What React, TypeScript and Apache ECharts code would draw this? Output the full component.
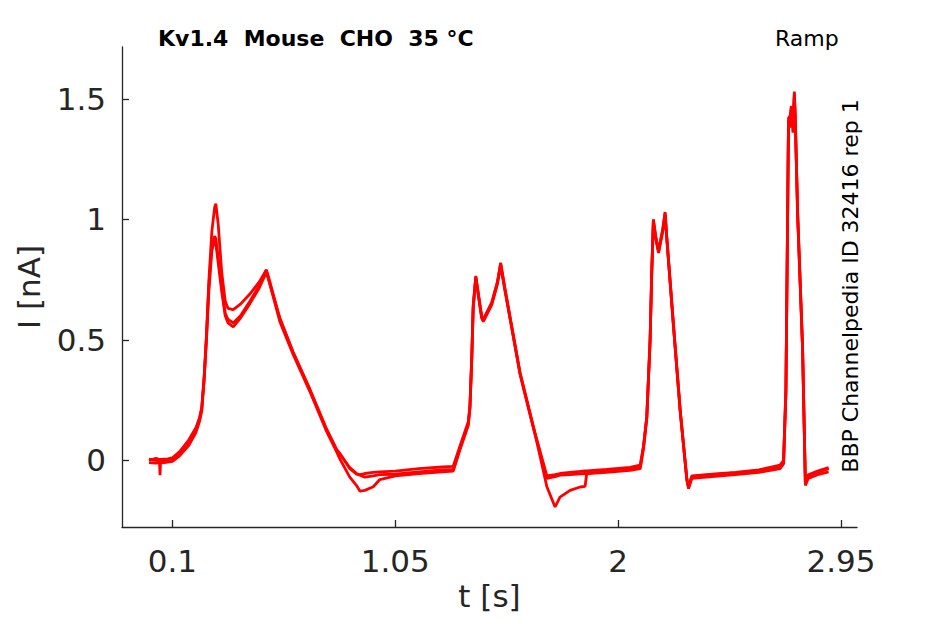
import React, { useEffect, useRef } from "react";
import * as echarts from "echarts";

// time base shared by the three repetitions (s)
const timeS = [
  0.0, 0.03, 0.045, 0.047, 0.049, 0.08, 0.1, 0.13, 0.17, 0.2, 0.215, 0.225,
  0.235, 0.245, 0.255, 0.268, 0.28, 0.285, 0.295, 0.31, 0.325, 0.337, 0.359,
  0.39, 0.43, 0.47, 0.5, 0.51, 0.558, 0.614, 0.686, 0.757, 0.8, 0.814, 0.856,
  0.885, 0.899, 0.92, 0.956, 0.984, 1.05, 1.15, 1.25, 1.297, 1.326, 1.361,
  1.368, 1.376, 1.382, 1.393, 1.418, 1.425, 1.461, 1.485, 1.499, 1.518, 1.582,
  1.638, 1.696, 1.731, 1.752, 1.795, 1.838, 1.859, 1.866, 1.95, 2.05, 2.094,
  2.108, 2.122, 2.136, 2.143, 2.15, 2.16, 2.172, 2.19, 2.2, 2.207, 2.236,
  2.265, 2.293, 2.3, 2.314, 2.4, 2.5, 2.6, 2.69, 2.705, 2.715, 2.722, 2.726,
  2.733, 2.738, 2.745, 2.751, 2.755, 2.765, 2.786, 2.798, 2.81, 2.85, 2.897,
];

// current, nA
const rep1 = [
  0.005, 0.0, -0.005, -0.005, -0.004, 0.002, 0.005, 0.028, 0.075, 0.125, 0.168,
  0.215, 0.34, 0.52, 0.74, 0.95, 1.05, 1.065, 0.98, 0.78, 0.66, 0.63, 0.625,
  0.648, 0.69, 0.74, 0.79, 0.75, 0.59, 0.45, 0.295, 0.13, 0.045, 0.028, -0.035,
  -0.058, -0.062, -0.07, -0.065, -0.06, -0.058, -0.048, -0.04, -0.038, 0.05,
  0.15, 0.22, 0.43, 0.64, 0.76, 0.595, 0.58, 0.65, 0.735, 0.82, 0.705, 0.36,
  0.14, -0.065, -0.06, -0.055, -0.05, -0.046, -0.044, -0.044, -0.038, -0.03,
  -0.02, 0.06, 0.18, 0.5, 0.78, 1.0, 0.93, 0.87, 0.96, 1.03, 0.93, 0.56, 0.2,
  -0.08, -0.11, -0.065, -0.058, -0.05, -0.04, -0.02, 0.0, 0.3, 1.0, 1.42, 1.43,
  1.47, 1.38, 1.53, 1.42, 1.03, 0.47, -0.095, -0.06, -0.045, -0.03,
];
const rep2 = [
  -0.01, -0.012, -0.01, -0.062, -0.012, -0.008, -0.005, 0.018, 0.062, 0.115,
  0.16, 0.205, 0.33, 0.5, 0.7, 0.87, 0.915, 0.9, 0.82, 0.7, 0.6, 0.57, 0.554,
  0.59, 0.65, 0.715, 0.78, 0.75, 0.575, 0.44, 0.285, 0.12, 0.035, 0.005, -0.07,
  -0.105, -0.128, -0.125, -0.11, -0.08, -0.065, -0.055, -0.048, -0.045, 0.045,
  0.145, 0.215, 0.42, 0.63, 0.755, 0.59, 0.575, 0.645, 0.73, 0.805, 0.7, 0.355,
  0.135, -0.075, -0.068, -0.062, -0.06, -0.056, -0.055, -0.055, -0.05, -0.042,
  -0.035, 0.05, 0.175, 0.49, 0.77, 0.985, 0.92, 0.86, 0.95, 1.015, 0.92, 0.55,
  0.195, -0.085, -0.118, -0.075, -0.068, -0.06, -0.05, -0.035, -0.015, 0.28,
  0.98, 1.4, 1.41, 1.45, 1.36, 1.51, 1.4, 1.01, 0.46, -0.105, -0.075, -0.06,
  -0.048,
];
const rep3 = [
  0.0, 0.008, 0.003, 0.003, 0.004, 0.006, 0.01, 0.035, 0.085, 0.135, 0.175,
  0.22, 0.345, 0.51, 0.72, 0.89, 0.93, 0.92, 0.84, 0.72, 0.61, 0.585, 0.57,
  0.6, 0.66, 0.725, 0.79, 0.76, 0.585, 0.448, 0.29, 0.125, 0.04, 0.025, -0.03,
  -0.055, -0.06, -0.055, -0.05, -0.048, -0.045, -0.035, -0.028, -0.025, 0.06,
  0.16, 0.225, 0.43, 0.64, 0.765, 0.6, 0.585, 0.655, 0.74, 0.815, 0.71, 0.362,
  0.142, -0.11, -0.194, -0.153, -0.125, -0.111, -0.108, -0.055, -0.045, -0.036,
  -0.028, 0.055, 0.18, 0.5, 0.78, 0.995, 0.925, 0.865, 0.955, 1.025, 0.925,
  0.555, 0.2, -0.08, -0.112, -0.068, -0.06, -0.052, -0.042, -0.025, -0.005,
  0.29, 0.99, 1.41, 1.38, 1.46, 1.4, 1.52, 1.41, 1.02, 0.465, -0.1, -0.065,
  -0.05, -0.035,
];

const xTicks = [0.1, 1.05, 2, 2.95];
const yTicks = [0, 0.5, 1, 1.5];

const axisColor = "#262626";
const font = "DejaVu Sans";

export default function App() {
  const ref = useRef<HTMLDivElement>(null);

  useEffect(() => {
    if (!ref.current) return;
    const chart = echarts.init(ref.current, undefined, { renderer: "svg" });

    const reps = [rep1, rep2, rep3];

    chart.setOption({
      animation: false,
      backgroundColor: "#ffffff",
      grid: { left: 122, top: 47, width: 735, height: 480 },
      xAxis: {
        type: "value",
        min: -0.115,
        max: 3.018,
        name: "t [s]",
        nameLocation: "middle",
        nameGap: 50,
        nameTextStyle: { color: axisColor, fontSize: 31, fontFamily: font },
        axisLine: { onZero: false, lineStyle: { color: axisColor, width: 1.3 } },
        axisTick: {
          inside: true,
          length: 7,
          customValues: xTicks,
          lineStyle: { color: axisColor, width: 1.3 },
        },
        axisLabel: {
          customValues: xTicks,
          color: axisColor,
          fontSize: 31,
          fontFamily: font,
          margin: 18,
          formatter: (v: number) => String(v),
        },
        splitLine: { show: false },
      },
      yAxis: {
        type: "value",
        min: -0.277,
        max: 1.715,
        name: "I [nA]",
        nameLocation: "middle",
        nameGap: 78,
        nameTextStyle: { color: axisColor, fontSize: 31, fontFamily: font },
        axisLine: {
          show: true,
          onZero: false,
          lineStyle: { color: axisColor, width: 1.3 },
        },
        axisTick: {
          show: true,
          inside: true,
          length: 7,
          customValues: yTicks,
          lineStyle: { color: axisColor, width: 1.3 },
        },
        axisLabel: {
          customValues: yTicks,
          color: axisColor,
          fontSize: 31,
          fontFamily: font,
          margin: 16,
          formatter: (v: number) => String(v),
        },
        splitLine: { show: false },
      },
      graphic: [
        {
          type: "text",
          left: 158,
          top: 27,
          style: {
            text: "Kv1.4  Mouse  CHO  35 °C",
            fill: "#000",
            font: `bold 22px "${font}"`,
          },
        },
        {
          type: "text",
          left: 775,
          top: 27,
          style: { text: "Ramp", fill: "#000", font: `22px "${font}"` },
        },
        {
          type: "text",
          x: 850,
          y: 286,
          rotation: Math.PI / 2,
          style: {
            text: "BBP Channelpedia ID 32416 rep 1",
            fill: "#000",
            font: `22px "${font}"`,
            align: "center",
            verticalAlign: "middle",
          },
        },
      ],
      series: reps.map((rep, i) => ({
        name: `rep ${i + 1}`,
        type: "line",
        data: timeS.map((t, k) => [t, rep[k]]),
        symbol: "none",
        silent: true,
        lineStyle: { color: "#ff0000", width: 2.8 },
      })),
    });

    return () => chart.dispose();
  }, []);

  return (
    <div
      ref={ref}
      style={{ position: "absolute", left: 0, top: 0, width: 945, height: 624 }}
    />
  );
}
